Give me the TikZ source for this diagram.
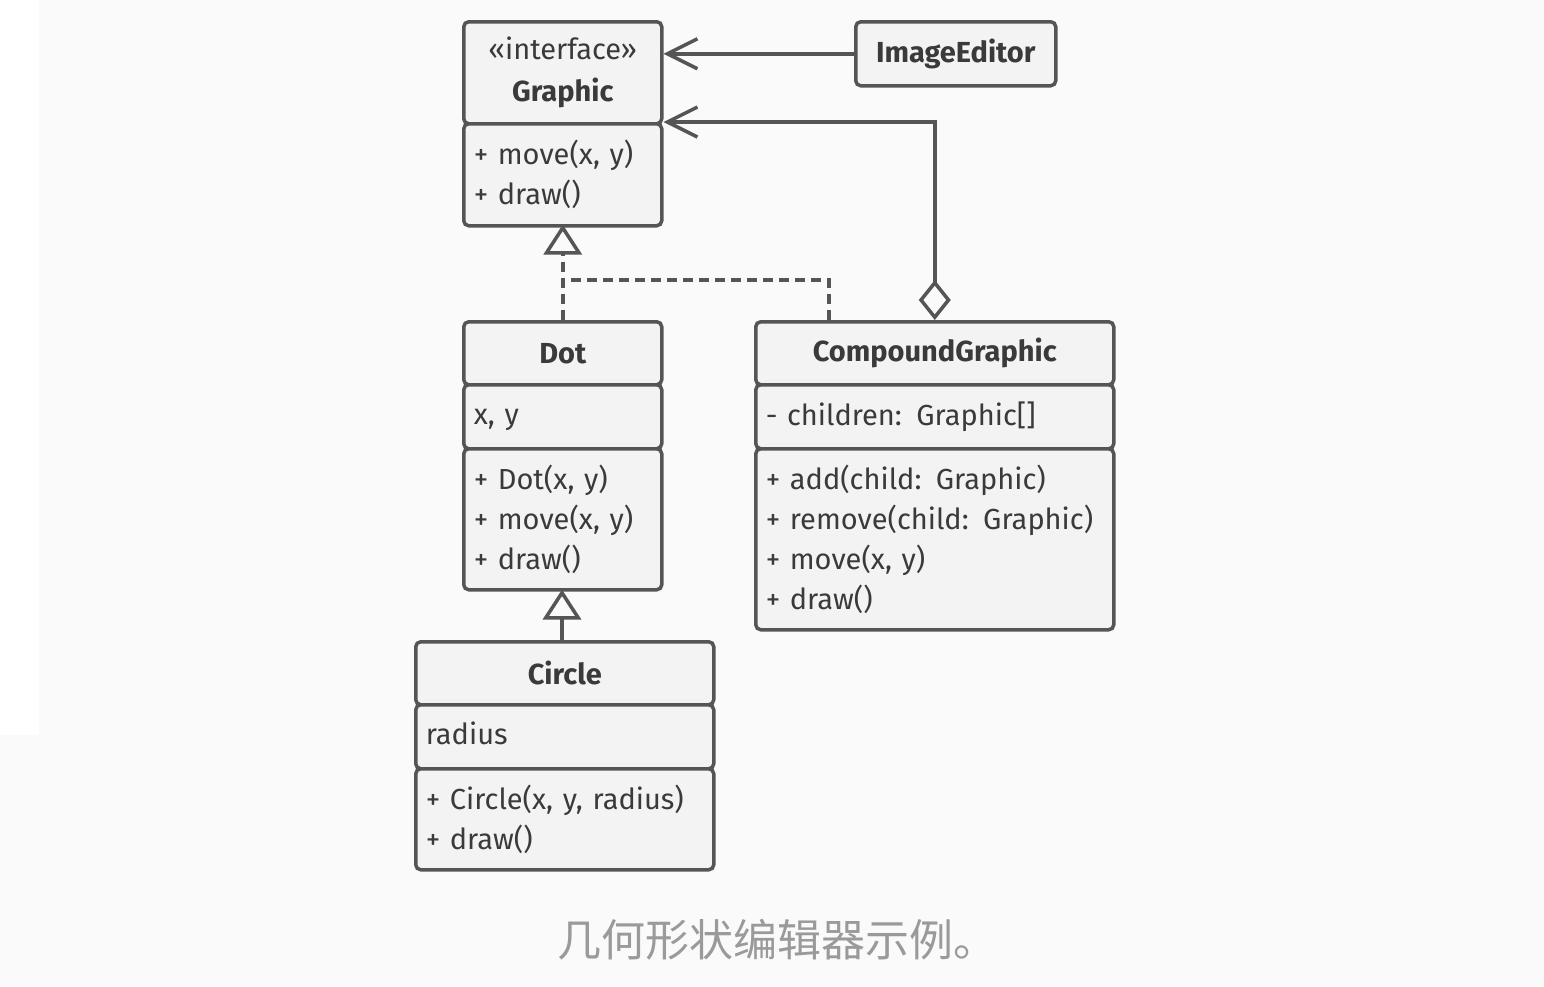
\documentclass[tikz,border=0pt]{standalone}
\usepackage{fontspec}
\setmainfont{Fira Sans}
\newfontfamily\cjk{Noto Sans CJK SC}
\usetikzlibrary{arrows.meta}

\definecolor{linegray}{HTML}{555555}
\definecolor{boxgray}{HTML}{F3F3F3}
\definecolor{textgray}{HTML}{3A3A3A}
\definecolor{pagegray}{HTML}{FAFAFA}
\definecolor{captiongray}{HTML}{9A9A9A}

\tikzset{
  part/.style={draw=linegray, fill=boxgray, line width=3.5pt, rounded corners=5pt,
    anchor=north west, inner xsep=10pt, inner ysep=0pt, text=textgray,
    font=\fontsize{29}{40}\selectfont},
  title/.style={part, align=center, font=\bfseries\fontsize{29}{42}\selectfont},
  list/.style={part, align=left},
  link/.style={draw=linegray, line width=3.5pt},
  assoc/.style={link, -{Straight Barb[length=30pt,width=30pt]}},
  aggr/.style={link, {Diamond[open,length=40pt,width=32pt]}-{Straight Barb[length=30pt,width=30pt]}},
  inherit/.style={link, -{Triangle[open,length=30pt,width=38pt]}},
  realize/.style={inherit, dash pattern=on 10pt off 6pt},
  dashline/.style={link, dash pattern=on 10pt off 6pt}
}

\begin{document}
\begin{tikzpicture}[x=1pt,y=-1pt]
  % page
  \fill[pagegray] (0,0) rectangle (1544,986);
  \fill[white] (0,0) rectangle (39,735);
  \useasboundingbox (0,0) rectangle (1544,986);

  % classes
  \node [title, text width=178pt, minimum height=102pt] (graphic) at (462,20)
    {{\mdseries «interface»}\\Graphic};
  \node [list, text width=178pt, minimum height=102pt] (graphicops) at (462,122)
    {+ move(x, y)\\+ draw()};
  \node [title, text width=180pt, minimum height=64pt] (editor) at (854,20) {ImageEditor};

  \node [title, text width=178pt, minimum height=63pt] (dot) at (462,320) {Dot};
  \node [list, text width=178pt, minimum height=64pt] (dotattr) at (462,383) {x, y\strut};
  \node [list, text width=178pt, minimum height=141pt] (dotops) at (462,447)
    {+ Dot(x, y)\\+ move(x, y)\\+ draw()};

  \node [title, text width=338pt, minimum height=63pt] (compound) at (754,320) {CompoundGraphic};
  \node [list, text width=338pt, minimum height=64pt] (compoundattr) at (754,383) {- children: Graphic[]};
  \node [list, text width=338pt, minimum height=181pt] (compoundops) at (754,447)
    {+ add(child: Graphic)\\+ remove(child: Graphic)\\+ move(x, y)\\+ draw()};

  \node [title, text width=278pt, minimum height=63pt] (circle) at (414,640) {Circle};
  \node [list, text width=278pt, minimum height=64pt] (circleattr) at (414,703) {radius\strut};
  \node [list, text width=278pt, minimum height=101pt] (circleops) at (414,767)
    {+ Circle(x, y, radius)\\+ draw()};

  \coordinate (joint) at (561,280);
  \coordinate (cgfoot) at (829,320);

  % relations
  \draw [assoc] (editor.west) -- (editor.west -| graphic.east);
  \draw [aggr] (compound.north) |- (graphicops.north east);
  \draw [realize] (dot.north) -- ([yshift=3pt]graphicops.south);
  \draw [dashline] (cgfoot) |- (joint);
  \draw [inherit] (circle.north -| 562,0) -- ([yshift=2pt]dotops.south -| 562,0);

  % caption
  \node [text=captiongray, font=\cjk\fontsize{44}{44}\selectfont] (caption) at (777,940)
    {几何形状编辑器示例。};
\end{tikzpicture}
\end{document}
